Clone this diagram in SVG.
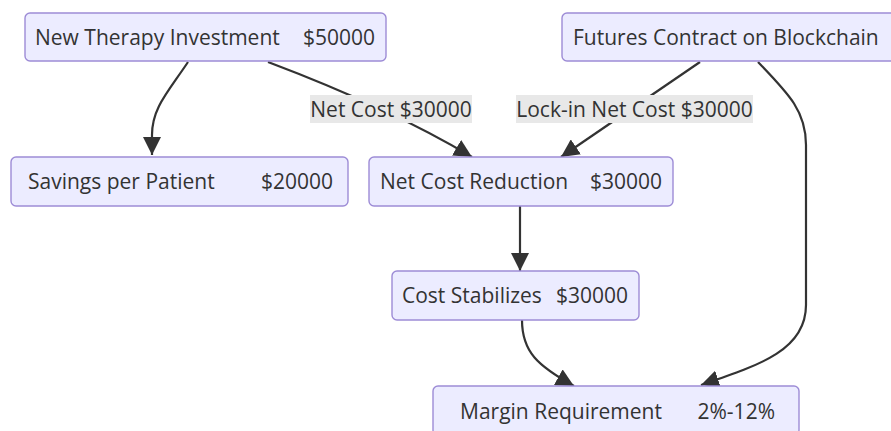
<svg xmlns="http://www.w3.org/2000/svg" width="891" height="431" viewBox="0 0 891 431">
  <style>
    .node rect { fill: #ECECFF; stroke: #9D8CD6; stroke-width: 1.4; }
    .node text { font-family: "Open Sans", "Noto Sans", sans-serif; font-size: 21px; fill: #333333; }
    .edge { fill: none; stroke: #333333; stroke-width: 2.2; }
    .elabel rect { fill: #E8E8E8; }
    .elabel text { font-family: "Open Sans", "Noto Sans", sans-serif; font-size: 21px; fill: #333333; text-anchor: middle; }
  </style>
  <defs>
    <marker id="arrow" viewBox="0 0 10 10" refX="10" refY="5" markerUnits="userSpaceOnUse" markerWidth="18" markerHeight="18" orient="auto">
      <path d="M0,0 L10,5 L0,10 z" fill="#333333"/>
    </marker>
  </defs>

  <rect width="891" height="431" fill="#FFFFFF"/>

  <g id="connectors">
    <path class="edge" d="M188,62 C168,92 152,108 152,135 L152,155" marker-end="url(#arrow)"/>
    <path class="edge" d="M268,62 Q390,108 472,157" marker-end="url(#arrow)"/>
    <path class="edge" d="M700,62 L561,157" marker-end="url(#arrow)"/>
    <path class="edge" d="M758,62 C790,95 806,112 806,145 L806,305 C806,350 760,365 701,385" marker-end="url(#arrow)"/>
    <path class="edge" d="M520,206 L520,271" marker-end="url(#arrow)"/>
    <path class="edge" d="M522,320 C522,352 538,366 574,386" marker-end="url(#arrow)"/>

    <g class="elabel">
      <rect x="310" y="95" width="162" height="28"/>
      <text x="391" y="116.5">Net Cost $30000</text>
    </g>
    <g class="elabel">
      <rect x="516" y="95" width="237" height="28"/>
      <text x="634.5" y="116.5">Lock-in Net Cost $30000</text>
    </g>
  </g>

  <g id="new-therapy" class="node">
    <rect x="25" y="13" width="361" height="48" rx="5"/>
    <text y="45"><tspan x="35">New Therapy Investment</tspan><tspan x="375" text-anchor="end">$50000</tspan></text>
  </g>

  <g id="futures-contract" class="node">
    <rect x="562" y="13" width="340" height="48" rx="5"/>
    <text x="573" y="45">Futures Contract on Blockchain</text>
  </g>

  <g id="savings-per-patient" class="node">
    <rect x="11" y="157" width="337" height="49" rx="5"/>
    <text y="189"><tspan x="28">Savings per Patient</tspan><tspan x="333" text-anchor="end">$20000</tspan></text>
  </g>

  <g id="net-cost-reduction" class="node">
    <rect x="369" y="157" width="304" height="49" rx="5"/>
    <text y="189"><tspan x="380">Net Cost Reduction</tspan><tspan x="662" text-anchor="end">$30000</tspan></text>
  </g>

  <g id="cost-stabilizes" class="node">
    <rect x="392" y="271" width="247" height="49" rx="5"/>
    <text y="303"><tspan x="402">Cost Stabilizes</tspan><tspan x="628" text-anchor="end">$30000</tspan></text>
  </g>

  <g id="margin-requirement" class="node">
    <rect x="433" y="386" width="366" height="49" rx="5"/>
    <text y="419"><tspan x="460">Margin Requirement</tspan><tspan x="775" text-anchor="end">2%-12%</tspan></text>
  </g>
</svg>
